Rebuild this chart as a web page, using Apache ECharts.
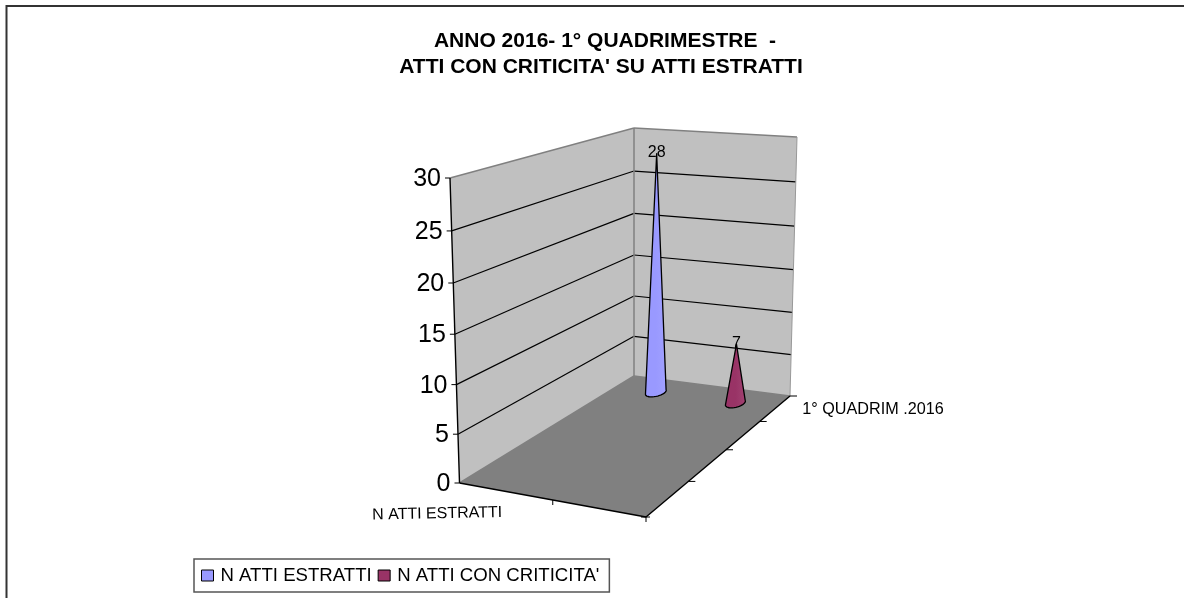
<!DOCTYPE html>
<html>
<head>
<meta charset="utf-8">
<title>Atti con criticita</title>
<style>
  html, body { margin: 0; padding: 0; background: #fff; }
  #chart { width: 1184px; height: 598px; }
</style>
<script src="https://cdn.jsdelivr.net/npm/echarts@6/dist/echarts.min.js"></script>
</head>
<body>
<div id="chart"></div>
<script>
const titleLines = ['ANNO 2016- 1° QUADRIMESTRE  -', "ATTI CON CRITICITA' SU ATTI ESTRATTI"]
const columnLabels = ['N ATTI ESTRATTI', "N ATTI CON CRITICITA'"]
const rowLabels = ['1° QUADRIM .2016', '', '', '']
const seriesNames = ['N ATTI ESTRATTI', "N ATTI CON CRITICITA'"]
const seriesValues = [28, 7]
const valueTicks = [0, 5, 10, 15, 20, 25, 30]

// corners of the 3d box on screen, bottom then top
const box = {
  A: [459.5, 483], B: [634, 376], C: [790, 396], D: [646, 517],
  A2: [450, 178], B2: [634, 128], C2: [797, 137], D2: [646, 205]
}
const font = 'Liberation Sans'

// u: left to right, v: back to front, t: floor to top
function project (u, v, t) {
  const bot = [0, 1].map(i =>
    (1 - v) * ((1 - u) * box.B[i] + u * box.C[i]) + v * ((1 - u) * box.A[i] + u * box.D[i]))
  const top = [0, 1].map(i =>
    (1 - v) * ((1 - u) * box.B2[i] + u * box.C2[i]) + v * ((1 - u) * box.A2[i] + u * box.D2[i]))
  return [bot[0] + (top[0] - bot[0]) * t, bot[1] + (top[1] - bot[1]) * t]
}
const heightOf = s => s / (1 + 0.05 * (1 - s))
const depthOf = s => s / (1 + 0.25 * (1 - s))

function line (a, b, color, width) {
  return {
    type: 'line',
    shape: { x1: a[0], y1: a[1], x2: b[0], y2: b[1] },
    style: { stroke: color, lineWidth: width }
  }
}
function poly (points, fill) {
  return { type: 'polygon', shape: { points: points }, style: { fill: fill } }
}
function label (text, pos, size, align, rotation) {
  return {
    type: 'text',
    x: pos[0],
    y: pos[1],
    rotation: rotation || 0,
    style: { text: text, x: 0, y: 0, fill: '#000', fontFamily: font, fontSize: size, align: align, verticalAlign: 'middle' }
  }
}

function renderFrame (params, api) {
  const g = params.coordSys
  const A = project(0, 1, 0), B = project(0, 0, 0), C = project(1, 0, 0), D = project(1, 1, 0)
  const A2 = project(0, 1, 1), B2 = project(0, 0, 1), C2 = project(1, 0, 1)
  const children = [
    poly([A, B, B2, A2], '#c0c0c0'),
    poly([B, C, C2, B2], '#c0c0c0'),
    poly([A, B, C, D], '#808080')
  ]
  valueTicks.forEach(tick => {
    const s = (g.y + g.height - api.coord([0, tick])[1]) / g.height
    const t = heightOf(s)
    const p = project(0, 1, t), q = project(0, 0, t), r = project(1, 0, t)
    if (tick > 0 && tick < valueTicks[valueTicks.length - 1]) {
      children.push(line(p, q, '#000', 1.2), line(q, r, '#000', 1.2))
    }
    children.push(line([p[0] - 5, p[1]], p, '#000', 1))
    children.push(label(String(tick), [p[0] - 9, p[1] + 1], 25, 'right'))
  })
  children.push(
    line(A2, B2, '#808080', 1.5), line(B2, C2, '#808080', 1.5),
    line(B, B2, '#808080', 1.5), line(C, C2, '#999', 1),
    line(A, B, '#808080', 1.5), line(B, C, '#808080', 1.5),
    line(A, A2, '#000', 1.4), line(A, D, '#000', 1.4), line(D, C, '#000', 1.4)
  )
  // ticks under the floor
  const half = project(0.5, 1, 0)
  children.push(line(half, [half[0], half[1] + 5], '#000', 1))
  children.push(line(D, [D[0], D[1] + 5], '#000', 1), line([D[0] - 5, D[1]], [D[0] + 4, D[1]], '#000', 1))
  for (let i = 0; i < rowLabels.length; i++) {
    const p = project(1, depthOf(i / rowLabels.length), 0)
    children.push(line(p, [p[0] + 7, p[1]], '#000', 1))
  }
  const colPos = project(0.25, 1, 0)
  children.push(label(columnLabels[0], [colPos[0] - 4, colPos[1] + 21], 16, 'right', 0.02))
  const rowPos = project(1, depthOf(0.5 / rowLabels.length), 0)
  children.push(label(rowLabels[0], [rowPos[0] + 27, rowPos[1] + 1], 16.2, 'left'))
  return { type: 'group', children: children }
}

function renderCone (params, api) {
  const g = params.coordSys
  const pt = api.coord([api.value(0), api.value(1)])
  const u = (pt[0] - g.x) / g.width
  const s = (g.y + g.height - pt[1]) / g.height
  const v = depthOf(0.5 / rowLabels.length)
  const apex = project(u, v, heightOf(s))
  const points = [apex]
  for (let deg = -50; deg <= 140; deg += 10) {
    const a = deg * Math.PI / 180
    points.push(project(u + 0.05 * Math.cos(a), v + 0.04 * Math.sin(a), 0))
  }
  const color = api.visual('color')
  const edge = echarts.color.lift(color, 0.08)
  return {
    type: 'group',
    children: [
      {
        type: 'polygon',
        shape: { points: points },
        style: {
          fill: new echarts.graphic.LinearGradient(0, 0, 1, 0, [
            { offset: 0, color: color },
            { offset: 0.5, color: color },
            { offset: 1, color: edge }
          ]),
          stroke: '#000',
          lineWidth: 1.3,
          lineJoin: 'round'
        }
      },
      label(String(api.value(1)), [apex[0], apex[1] - 1], 16, 'center')
    ]
  }
}

const titleStyle = { fontFamily: font, fontSize: 21, fontWeight: 'bold', color: '#000' }
const option = {
  animation: false,
  backgroundColor: '#fff',
  title: [
    { text: titleLines[0], left: 600, top: 26, textAlign: 'center', textStyle: titleStyle },
    { text: titleLines[1], left: 596, top: 52, textAlign: 'center', textStyle: titleStyle }
  ],
  graphic: [{
    type: 'polyline',
    shape: { points: [[6.5, 598], [6.5, 6], [1184, 6]] },
    style: { stroke: '#333', lineWidth: 2, fill: null }
  }],
  legend: {
    data: seriesNames,
    left: 194,
    top: 559,
    icon: 'rect',
    itemWidth: 12,
    itemHeight: 11,
    itemGap: 6,
    padding: [7, 10, 7, 7],
    backgroundColor: '#fff',
    borderColor: '#555',
    borderWidth: 1.5,
    selectedMode: false,
    itemStyle: { borderColor: '#000', borderWidth: 1 },
    textStyle: { fontFamily: font, fontSize: 18.6, color: '#000', padding: [0, 0, 0, 2] }
  },
  grid: { left: 400, right: 400, top: 150, bottom: 150 },
  xAxis: { type: 'category', show: false, data: columnLabels },
  yAxis: { type: 'value', show: false, min: 0, max: 30, interval: 5 },
  series: [
    { type: 'custom', name: 'frame', silent: true, z: 1, renderItem: renderFrame, data: [[0, 0]] },
    { type: 'custom', name: seriesNames[0], z: 2, renderItem: renderCone, itemStyle: { color: '#9999ff' }, data: [[0, seriesValues[0]]] },
    { type: 'custom', name: seriesNames[1], z: 2, renderItem: renderCone, itemStyle: { color: '#993366' }, data: [[1, seriesValues[1]]] }
  ]
}

const dom = echarts.init(document.getElementById('chart'))
dom.setOption(option)
</script>
</body>
</html>
